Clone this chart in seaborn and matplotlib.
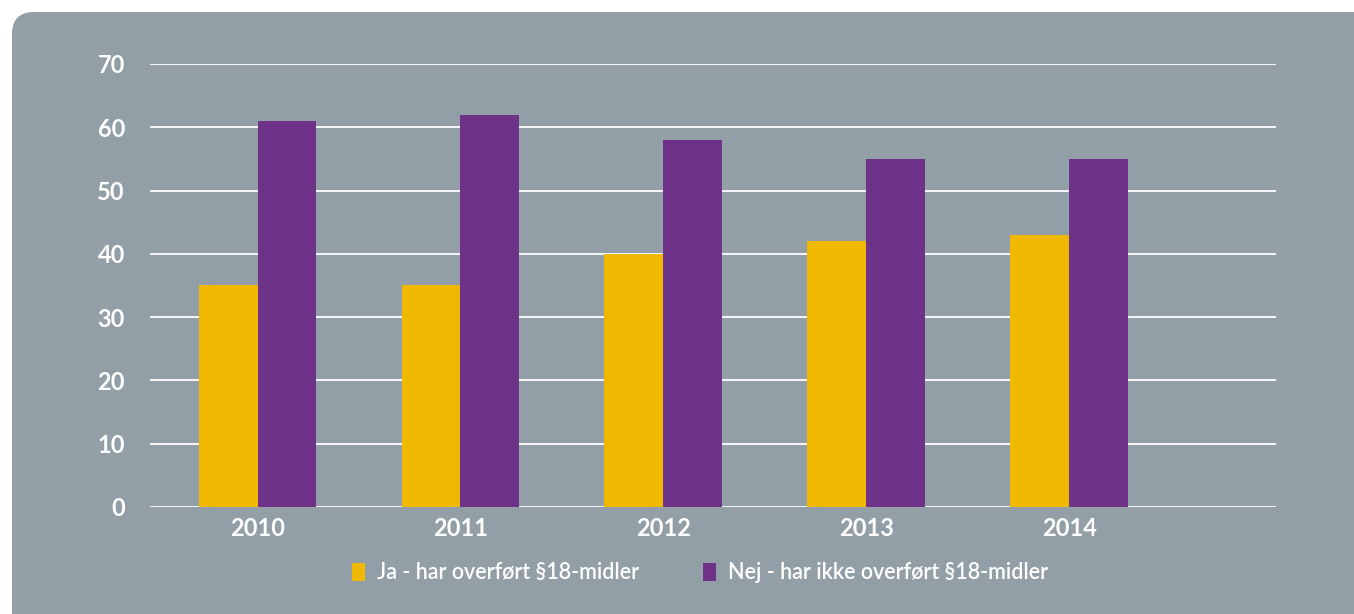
import numpy as np
import pandas as pd
import matplotlib
matplotlib.use("Agg")
import matplotlib.pyplot as plt
import matplotlib.patches as mpatches
import seaborn as sns

years = ["2010", "2011", "2012", "2013", "2014"]
ja = [35, 35, 40, 42, 43]
nej = [61, 62, 58, 55, 55]
series_names = ["Ja - har overført §18-midler", "Nej - har ikke overført §18-midler"]
yticks = [0, 10, 20, 30, 40, 50, 60, 70]

yellow = "#F0B800"
purple = "#6E3289"
panel = "#939FA7"

df = pd.DataFrame({
    "year": years * 2,
    "value": ja + nej,
    "series": [series_names[0]] * len(years) + [series_names[1]] * len(years),
})

sns.set_style("white")
plt.rcParams["font.family"] = ["Lato", "DejaVu Sans"]

fig = plt.figure(figsize=(13.54, 6.14), dpi=100)
fig.patch.set_facecolor("white")

# grey rounded panel behind everything
bg = mpatches.FancyBboxPatch((0.12, -1.0), 15.0, 7.02,
                             boxstyle="round,pad=0,rounding_size=0.22",
                             transform=fig.dpi_scale_trans,
                             facecolor=panel, edgecolor="none", zorder=-10)
fig.patches.append(bg)

ax = fig.add_axes([0.1108, 0.1743, 0.8316, 0.7215])
ax.set_facecolor("none")
ax.set_zorder(1)

sns.barplot(data=df, x="year", y="value", hue="series", order=years,
            palette=[yellow, purple], width=0.58, gap=0, linewidth=0,
            saturation=1, ax=ax, zorder=3, legend=True)

ax.set_ylim(0, 70)
ax.set_xlim(-0.53, 5.02)
ax.set_yticks(yticks)
ax.yaxis.grid(True, color="white", linewidth=1.3, zorder=1)
ax.set_axisbelow(True)
for s in ax.spines.values():
    s.set_visible(False)
ax.tick_params(axis="both", length=0, labelcolor="white", labelsize=17)
ax.tick_params(axis="y", pad=18)
ax.tick_params(axis="x", pad=7)
for lab in ax.get_xticklabels() + ax.get_yticklabels():
    lab.set_fontweight("bold")
ax.set_xlabel("")
ax.set_ylabel("")

handles, labels = ax.get_legend_handles_labels()
ax.get_legend().remove()
leg = fig.legend(handles, labels, loc="center", bbox_to_anchor=(0.517, 0.067),
                 ncol=2, frameon=False, fontsize=15.5, handlelength=0.6,
                 handleheight=0.9, handletextpad=0.55, columnspacing=3.0)
for t in leg.get_texts():
    t.set_color("white")
    t.set_fontweight("semibold")

fig.savefig("out.png", dpi=100, facecolor=fig.get_facecolor())
